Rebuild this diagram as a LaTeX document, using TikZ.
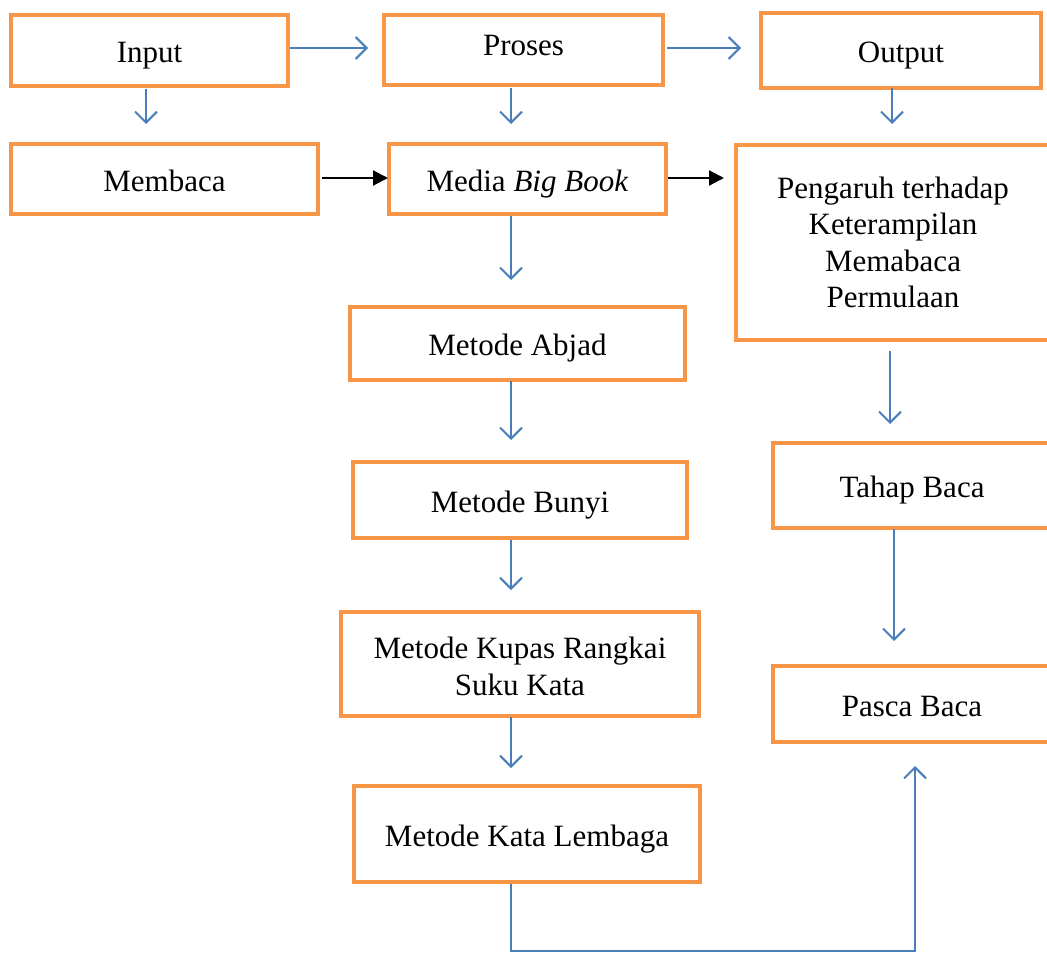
\documentclass[tikz,border=0pt]{standalone}
\usepackage{fontspec}
\setmainfont{Liberation Serif}
\usetikzlibrary{arrows.meta}
\definecolor{boxorange}{HTML}{F79646}
\definecolor{arrowblue}{HTML}{4A7EBB}
\tikzset{
  box/.style={draw=boxorange, line width=4.5pt, fill=white, inner sep=0pt, align=center,
    font=\fontsize{31}{36.5}\selectfont},
  oneline/.style={text height=24pt, text depth=0pt},
  bluearrow/.style={draw=arrowblue, line width=2pt, -{Straight Barb[length=11pt,width=22pt,line width=2pt]}},
  blackarrow/.style={draw=black, line width=2.2pt, -{Triangle[length=15pt,width=15pt]}},
  blueline/.style={draw=arrowblue, line width=2pt}
}
\begin{document}
\begin{tikzpicture}[x=1pt,y=-1pt]
\useasboundingbox (0,0) rectangle (1047,953);
% boxes
\node[box, oneline, minimum width=277pt, minimum height=71pt] (input) at (149.5,50.5) {Input};
\node[box, text height=10pt, text depth=0pt, minimum width=279pt, minimum height=70pt] (proses) at (523.5,50) {Proses};
\node[box, oneline, minimum width=280pt, minimum height=75pt] (output) at (901,50.5) {Output};
\node[box, oneline, minimum width=307pt, minimum height=70pt] (membaca) at (164.5,179) {Membaca};
\node[box, oneline, minimum width=277pt, minimum height=70pt] (media) at (527.5,179) {Media \textit{Big Book}};
\node[box, minimum width=314pt, minimum height=195pt] (pengaruh) at (893,242.5) {Pengaruh terhadap\\Keterampilan\\Memabaca\\Permulaan};
\node[box, oneline, minimum width=335pt, minimum height=73pt] (abjad) at (517.5,343.5) {Metode Abjad};
\node[box, oneline, minimum width=334pt, minimum height=76pt] (bunyi) at (520,500) {Metode Bunyi};
\node[box, minimum width=358pt, minimum height=104pt] (kupas) at (520,664) {\rule{0pt}{26pt}Metode Kupas Rangkai\\Suku Kata};
\node[box, oneline, minimum width=346pt, minimum height=96pt] (lembaga) at (527,834) {Metode Kata Lembaga};
\node[box, oneline, minimum width=278pt, minimum height=85pt] (tahap) at (912,485.5) {Tahap Baca};
\node[box, oneline, minimum width=278pt, minimum height=76pt] (pasca) at (912,704) {Pasca Baca};
% free-end coordinates
\coordinate (a1s) at (290,48); \coordinate (a1e) at (368,48);
\coordinate (a2s) at (667,48); \coordinate (a2e) at (741,48);
\coordinate (d1s) at (146,89); \coordinate (d1e) at (146,124);
\coordinate (d2s) at (511,88); \coordinate (d2e) at (511,124);
\coordinate (d3s) at (892,88); \coordinate (d3e) at (892,124);
\coordinate (b1s) at (322,178); \coordinate (b1e) at (388,178);
\coordinate (b2s) at (668,178); \coordinate (b2e) at (724,178);
\coordinate (d4s) at (511,216); \coordinate (d4e) at (511,280);
\coordinate (d5s) at (890,351); \coordinate (d5e) at (890,424);
\coordinate (d6s) at (511,381); \coordinate (d6e) at (511,440);
\coordinate (d7s) at (511,540); \coordinate (d7e) at (511,590);
\coordinate (d8s) at (511,717); \coordinate (d8e) at (511,768);
\coordinate (d9s) at (894,529); \coordinate (d9e) at (894,641);
\coordinate (l1) at (511,884); \coordinate (l2) at (511,951);
\coordinate (l3) at (915,951); \coordinate (l4) at (915,766);
% connectors
\draw[bluearrow] (a1s) -- (a1e);
\draw[bluearrow] (a2s) -- (a2e);
\draw[bluearrow] (d1s) -- (d1e);
\draw[bluearrow] (d2s) -- (d2e);
\draw[bluearrow] (d3s) -- (d3e);
\draw[blackarrow] (b1s) -- (b1e);
\draw[blackarrow] (b2s) -- (b2e);
\draw[bluearrow] (d4s) -- (d4e);
\draw[bluearrow] (d5s) -- (d5e);
\draw[bluearrow] (d6s) -- (d6e);
\draw[bluearrow] (d7s) -- (d7e);
\draw[bluearrow] (d8s) -- (d8e);
\draw[bluearrow] (d9s) -- (d9e);
\draw[bluearrow] (l1) -- (l2) -- (l3) -- (l4);
\end{tikzpicture}
\end{document}
